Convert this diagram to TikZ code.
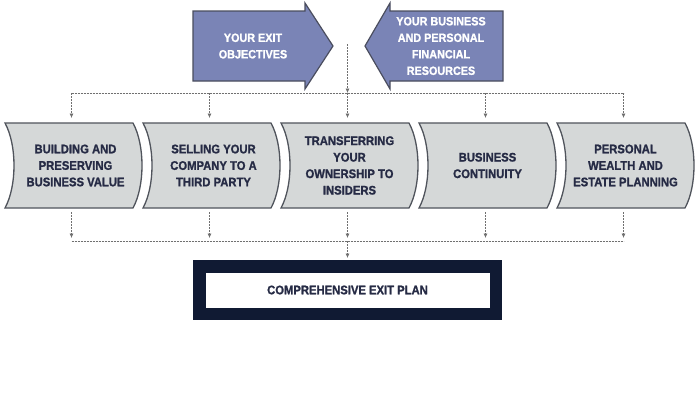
\documentclass[tikz,border=0pt]{standalone}
\usepackage{fontspec}
\setmainfont{Liberation Sans}[FakeStretch=0.9, BoldFeatures={FakeBold=1.2}]
\usetikzlibrary{arrows.meta,backgrounds}
\definecolor{arrowfill}{HTML}{7A84B6}
\definecolor{arrowedge}{HTML}{4A4D5E}
\definecolor{chevfill}{HTML}{D5D8D8}
\definecolor{chevedge}{HTML}{50545C}
\definecolor{navy}{HTML}{262B45}
\definecolor{framecol}{HTML}{101A33}
\definecolor{dashcol}{HTML}{707070}
\begin{document}
\begin{tikzpicture}[x=1pt,y=-1pt,
 lbl/.style={font=\fontsize{12.5}{16.5}\selectfont\bfseries, align=center, text=navy},
 toplbl/.style={font=\fontsize{12}{16.5}\selectfont\bfseries, align=center, text=white},
 bigarrow/.style={fill=arrowfill, draw=arrowedge, line width=1.2pt, line join=miter},
 chev/.style={lbl, minimum width=137pt, minimum height=85pt, inner sep=0pt, outer sep=0pt},
 chevshape/.style={fill=chevfill, draw=chevedge, line width=1.3pt},
 conn/.style={draw=dashcol, line width=0.7pt, dash pattern=on 2pt off 1pt},
 tipped/.style={-{Latex[length=4.5pt,width=4pt]}},
 planbox/.style={lbl, draw=framecol, fill=white, line width=12.5pt, minimum width=296.5pt, minimum height=47.5pt, inner sep=0pt},
]
\useasboundingbox (0,0) rectangle (698,400);

% top arrows
\draw[bigarrow] (193,11) -- (305,11) -- (305,3) -- (333,46) -- (305,89) -- (305,81) -- (193,81) -- cycle;
\draw[bigarrow] (503,11) -- (390,11) -- (390,3) -- (365,46) -- (390,89) -- (390,81) -- (503,81) -- cycle;
\node[toplbl] (obj) at (253,46) {YOUR EXIT\\OBJECTIVES};
\node[toplbl] (res) at (441,46) {YOUR BUSINESS\\AND PERSONAL\\FINANCIAL\\RESOURCES};

% chevrons
\node[chev] (c0) at (73.5,165.5) {\hspace*{4pt}BUILDING AND\\\hspace*{4pt}PRESERVING\\\hspace*{4pt}BUSINESS VALUE};
\node[chev] (c1) at (211.5,165.5) {\hspace*{4pt}SELLING YOUR\\\hspace*{4pt}COMPANY TO A\\\hspace*{4pt}THIRD PARTY};
\node[chev] (c2) at (349.5,165.5) {TRANSFERRING\\YOUR\\OWNERSHIP TO\\INSIDERS};
\node[chev] (c3) at (487.5,165.5) {BUSINESS\\CONTINUITY};
\node[chev] (c4) at (625.5,165.5) {PERSONAL\\WEALTH AND\\ESTATE PLANNING};

\begin{scope}[on background layer]
\fill[white] (0,0) rectangle (698,400);
\foreach \i in {0,...,4}
  \draw[chevshape] (c\i.north west) -- ([xshift=-9pt]c\i.north east)
    .. controls ([xshift=3pt,yshift=-22pt]c\i.north east) and ([xshift=3pt,yshift=22pt]c\i.south east) .. ([xshift=-9pt]c\i.south east)
    -- (c\i.south west)
    .. controls ([xshift=12pt,yshift=22pt]c\i.south west) and ([xshift=12pt,yshift=-22pt]c\i.north west) .. cycle;
\end{scope}

% final plan
\node[planbox] (plan) at (347.5,290) {COMPREHENSIVE EXIT PLAN};

% connectors
\coordinate (srcy) at (0,44);
\coordinate (hl) at (0,93);
\coordinate (bl) at (0,241);
\foreach \i in {0,...,4} {
  \coordinate (t\i) at ([xshift=-2pt]c\i.north |- hl);
  \coordinate (u\i) at ([xshift=-2pt]c\i.south |- bl);
}
\coordinate (src) at (t2 |- srcy);
\draw[conn] (t0) -- (t4);
\draw[conn] (u0) -- (u4);
\draw[conn,tipped] (src) -- (t2);
\foreach \i in {0,...,4} {
  \draw[conn,tipped,shorten >=5pt] (t\i) -- (t\i |- c\i.north);
  \draw[conn,tipped,shorten <=4pt,shorten >=3pt] (u\i |- c\i.south) -- (u\i);
}
\draw[conn,tipped,shorten >=2pt] (u2) -- (u2 |- plan.north);
\end{tikzpicture}
\end{document}
